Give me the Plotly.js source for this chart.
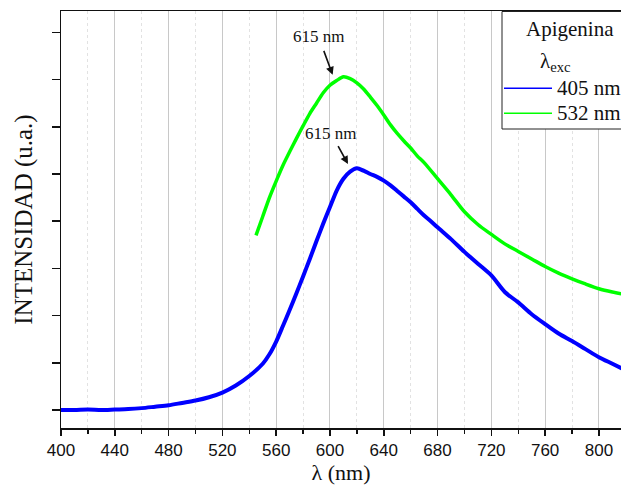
<!DOCTYPE html>
<html>
<head>
<meta charset="utf-8">
<script src="https://cdn.plot.ly/plotly-3.0.1.min.js"></script>
<style>html,body{margin:0;padding:0;background:#fff;}#chart{width:621px;height:485px;}</style>
</head>
<body>
<div id="chart"></div>
<script>
// Excitation 405 nm (blue)
const wl405 = [400,410,420,430,440,450,460,470,480,490,500,510,520,530,540,550,555,560,565,570,575,580,585,590,595,600,605,610,615,620,625,630,635,640,645,650,655,660,665,670,675,680,690,700,710,720,730,740,750,760,770,780,790,800,810,817];
const int405 = [0.0,0.0,0.01,0.0,0.01,0.02,0.04,0.07,0.1,0.15,0.2,0.27,0.37,0.52,0.72,0.98,1.18,1.45,1.78,2.12,2.47,2.83,3.2,3.58,3.95,4.3,4.65,4.9,5.05,5.12,5.07,5.0,4.94,4.86,4.76,4.64,4.52,4.4,4.26,4.12,4.0,3.87,3.62,3.35,3.1,2.85,2.5,2.28,2.03,1.82,1.62,1.46,1.29,1.12,0.98,0.88];
// Excitation 532 nm (green)
const wl532 = [545,550,555,560,565,570,575,580,585,590,595,600,605,610,615,620,625,630,635,640,645,650,655,660,665,670,680,690,700,710,720,730,740,750,760,770,780,790,800,810,817];
const int532 = [3.7,4.1,4.5,4.85,5.18,5.47,5.75,6.02,6.28,6.5,6.72,6.88,6.98,7.06,7.02,6.93,6.8,6.63,6.45,6.25,6.04,5.86,5.7,5.55,5.38,5.24,4.9,4.56,4.2,3.93,3.72,3.52,3.36,3.2,3.04,2.9,2.78,2.67,2.57,2.5,2.46];
const seriesNames = ['405 nm','532 nm'];
const seriesColors = ['#0000ff','#00ff00'];
const legendTitle = 'Apigenina';
const legendSubtitle = 'λ<sub>exc</sub>';
const peakLabel = '615 nm';
const peak532 = [602, 7.1];
const peak405 = [613.4, 5.21];

const serif = 'Liberation Serif';
const sans = 'Liberation Sans';

const traces = [
  {x: wl405, y: int405, type: 'scatter', mode: 'lines', name: seriesNames[0], showlegend: false,
   line: {color: seriesColors[0], width: 4, shape: 'spline', smoothing: 0.8}},
  {x: wl532, y: int532, type: 'scatter', mode: 'lines', name: seriesNames[1], showlegend: false,
   line: {color: seriesColors[1], width: 3.5, shape: 'spline', smoothing: 0.8}}
];

// legend box built from shapes + annotations (paper coordinates)
const W = 560, H = 417, L = 61, T = 11;
const px = v => (v - L) / W;
const py = v => (T + H - v) / H;

const shapes = [
  {type: 'rect', xref: 'paper', yref: 'paper', x0: px(502), x1: px(660), y0: py(129), y1: py(11.5),
   line: {color: '#222', width: 1}, fillcolor: '#fff', layer: 'above'},
  {type: 'line', xref: 'paper', yref: 'paper', x0: px(504), x1: px(552), y0: py(88.3), y1: py(88.3),
   line: {color: seriesColors[0], width: 1.5}, layer: 'above'},
  {type: 'line', xref: 'paper', yref: 'paper', x0: px(504), x1: px(552), y0: py(113.3), y1: py(113.3),
   line: {color: seriesColors[1], width: 1.5}, layer: 'above'}
];

const legFont = {family: serif, size: 21, color: '#111'};
const annotations = [
  {xref: 'paper', yref: 'paper', x: px(570), y: py(29), text: legendTitle, showarrow: false,
   xanchor: 'center', yanchor: 'middle', font: legFont},
  {xref: 'paper', yref: 'paper', x: px(538), y: py(62), text: legendSubtitle, showarrow: false,
   xanchor: 'left', yanchor: 'middle', font: legFont},
  {xref: 'paper', yref: 'paper', x: px(555), y: py(88.3), text: seriesNames[0], showarrow: false,
   xanchor: 'left', yanchor: 'middle', font: legFont},
  {xref: 'paper', yref: 'paper', x: px(555), y: py(113.3), text: seriesNames[1], showarrow: false,
   xanchor: 'left', yanchor: 'middle', font: legFont},
  {x: peak532[0], y: peak532[1], xref: 'x', yref: 'y', text: peakLabel, showarrow: true,
   ax: -14, ay: -38, arrowhead: 2, arrowsize: 1, arrowwidth: 1.6, arrowcolor: '#111', borderpad: 4,
   font: {family: serif, size: 17, color: '#111'}},
  {x: peak405[0], y: peak405[1], xref: 'x', yref: 'y', text: peakLabel, showarrow: true,
   ax: -17, ay: -31, arrowhead: 2, arrowsize: 1, arrowwidth: 1.6, arrowcolor: '#111', borderpad: 3,
   font: {family: serif, size: 17, color: '#111'}}
];

const layout = {
  width: 621, height: 485,
  margin: {l: 61, r: 0, t: 11, b: 57},
  paper_bgcolor: '#fff', plot_bgcolor: '#fff',
  showlegend: false,
  xaxis: {
    range: [400, 816.4], tickmode: 'linear', tick0: 400, dtick: 40,
    ticks: 'outside', ticklen: 6, tickwidth: 1.5, tickcolor: '#111',
    showline: true, linecolor: '#111', linewidth: 1.5, mirror: true,
    showgrid: true, gridcolor: '#c8c8c8', gridwidth: 1,
    zeroline: false,
    minor: {dtick: 20, ticks: 'outside', ticklen: 4, tickcolor: '#111', showgrid: true, gridcolor: '#e2e2e2', griddash: 'dot', gridwidth: 1},
    tickfont: {family: sans, size: 17, color: '#111'},
    title: {text: 'λ (nm)', font: {family: serif, size: 22, color: '#111'}, standoff: 5}
  },
  yaxis: {
    range: [-0.381, 8.453], tickmode: 'linear', tick0: 0, dtick: 1,
    ticks: 'outside', ticklen: 8, tickwidth: 1.5, tickcolor: '#111',
    showticklabels: false,
    showline: true, linecolor: '#111', linewidth: 1.5,
    showgrid: false, zeroline: false,
    title: {text: 'INTENSIDAD (u.a.)', font: {family: serif, size: 25, color: '#111'}, standoff: 12}
  },
  shapes: shapes,
  annotations: annotations
};

Plotly.newPlot('chart', traces, layout, {staticPlot: true, displayModeBar: false});
</script>
</body>
</html>
